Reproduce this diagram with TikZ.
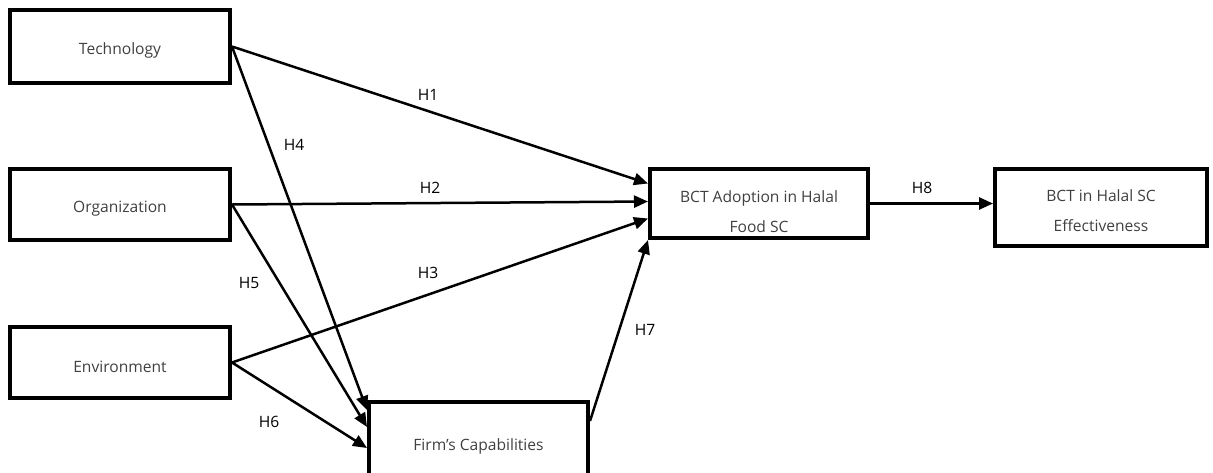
\documentclass[tikz,border=0pt]{standalone}
\usepackage{fontspec}
\setmainfont{Open Sans}
\usetikzlibrary{arrows.meta,calc}
\newcommand{\tstrut}[1]{\rule{0pt}{#1}}
\begin{document}
\begin{tikzpicture}[x=1pt,y=-1pt,
  box/.style={draw, line width=4pt, rectangle, inner sep=0pt, align=center,
    font=\fontsize{15.6}{30}\selectfont, text=black!75},
  link/.style={line width=2.5pt, -{Triangle[length=14pt,width=12pt]}},
  hlab/.style={font=\fontsize{15.6}{18}\selectfont, text=black, inner sep=0pt}]
\useasboundingbox (0,0) rectangle (1213,472);
\node[box, minimum width=220pt, minimum height=73pt] (tech) at (120,46.5) {\tstrut{20pt}Technology};
\node[box, minimum width=220pt, minimum height=71pt] (org) at (120,204.5) {\tstrut{20pt}Organization};
\node[box, minimum width=220pt, minimum height=71pt] (env) at (120,362.5) {\tstrut{20pt}Environment};
\node[box, minimum width=219pt, minimum height=84pt] (firm) at (478.5,444) {\tstrut{16pt}Firm’s Capabilities};
\node[box, minimum width=218pt, minimum height=69pt] (adopt) at (759,203.5) {\tstrut{28pt}BCT Adoption in Halal\\Food SC};
\node[box, minimum width=212pt, minimum height=77pt] (eff) at (1101,207.5) {\tstrut{18pt}BCT in Halal SC\\Effectiveness};

\draw[link] (tech.east) -- ([yshift=20pt]adopt.west);
\draw[link] (org.east) -- ([yshift=2pt]adopt.west);
\draw[link] (env.east) -- ([yshift=-15pt]adopt.west);
\draw[link] (tech.east) -- ([yshift=-10pt]firm.north west);
\draw[link] (org.east) -- ([yshift=-27pt]firm.north west);
\draw[link] (env.east) -- ([yshift=-48pt]firm.north west);
\draw[link] ([yshift=-21pt]firm.north east) -- (adopt.south west);
\draw[link] (adopt.east) -- (adopt.east -| eff.west);

\node[hlab] (h1) at (428,95) {H1};
\node[hlab] (h2) at (430,188) {H2};
\node[hlab] (h3) at (428,273) {H3};
\node[hlab] (h4) at (294,145) {H4};
\node[hlab] (h5) at (249,283) {H5};
\node[hlab] (h6) at (269,422) {H6};
\node[hlab] (h7) at (645,330) {H7};
\node[hlab] (h8) at (922,188) {H8};
\end{tikzpicture}
\end{document}
